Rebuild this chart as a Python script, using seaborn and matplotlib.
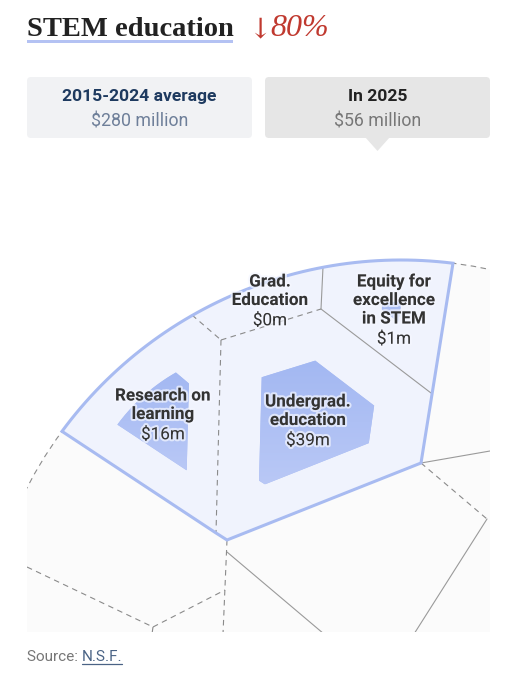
import numpy as np
import matplotlib
matplotlib.use("Agg")
import matplotlib.pyplot as plt
import matplotlib.patheffects as pe
from matplotlib.patches import Polygon, FancyBboxPatch, Circle, Rectangle
import seaborn as sns

# data ($ millions)
categories = ["Research on\nlearning", "Grad.\nEducation",
              "Equity for\nexcellence\nin STEM", "Undergrad.\neducation"]
avg_2015_2024 = [79, 20, 45, 136]
in_2025 = [16, 0, 1, 39]
period_labels = ["2015-2024 average", "In 2025"]
title = "STEM education"
source = "N.S.F."

total_avg = sum(avg_2015_2024)
total_2025 = sum(in_2025)
pct_drop = round(100 * (1 - total_2025 / total_avg))

# layout (pixel space of the 517x680 figure)
CX, CY, R = 401, 681, 421
CLIP = (27, 0, 490, 632)


def arc(x0, x1, n=60):
    a0 = np.arctan2(-np.sqrt(R**2 - (x0 - CX)**2), x0 - CX)
    a1 = np.arctan2(-np.sqrt(R**2 - (x1 - CX)**2), x1 - CX)
    t = np.linspace(a0, a1, n)
    return list(zip(CX + R * np.cos(t), CY + R * np.sin(t)))


cells = [
    arc(62, 192) + [(221, 340), (216, 533)],
    arc(192, 323) + [(321, 309), (221, 340)],
    arc(323, 453) + [(431, 393), (321, 309)],
    [(221, 340), (321, 309), (431, 393), (421, 463), (227, 540), (216, 533)],
]
label_pos = [(163, 396), (270, 282), (394, 282), (308, 402)]
group_outline = arc(62, 453) + [(421, 463), (227, 540), (216, 533)]

dashed_edges = [
    [(192, 315), (221, 340)], [(221, 340), (321, 309)], [(221, 340), (216, 533)],
    [(421, 463), (487, 519)], [(27, 567), (153, 627)], [(153, 627), (225, 590)],
    [(153, 627), (152, 634)], [(227, 540), (223, 634)],
]
solid_edges = [
    [(321, 309), (323, 267)], [(321, 309), (431, 393)],
    [(421, 463), (490, 451)], [(227, 552), (324, 634)], [(487, 519), (414, 634)],
]


def centroid(pts):
    p = np.array(pts)
    x, y = p[:, 0], p[:, 1]
    xs, ys = np.roll(x, -1), np.roll(y, -1)
    c = x * ys - xs * y
    a = c.sum() / 2
    return np.array([((x + xs) * c).sum() / (6 * a), ((y + ys) * c).sum() / (6 * a)])


sns.set_theme(style="white")
plt.rcParams["font.family"] = ["Roboto", "DejaVu Sans"]

fig = plt.figure(figsize=(5.17, 6.80), dpi=100)
ax = fig.add_axes([0, 0, 1, 1])
ax.set_xlim(0, 517)
ax.set_ylim(680, 0)
ax.axis("off")

clip_rect = Rectangle((CLIP[0], CLIP[1]), CLIP[2] - CLIP[0], CLIP[3] - CLIP[1],
                      transform=ax.transData, facecolor="none", edgecolor="none")
ax.add_patch(clip_rect)

# circle background
bg = Circle((CX, CY), R, facecolor="#fbfbfb", edgecolor="none", zorder=1)
ax.add_patch(bg)
bg.set_clip_path(clip_rect)
ring = Circle((CX, CY), R, facecolor="none", edgecolor="#8c8c8c", lw=0.8,
              linestyle=(0, (5, 4)), zorder=2)
ax.add_patch(ring)
ring.set_clip_path(clip_rect)

# STEM group fill
ax.add_patch(Polygon(group_outline, closed=True, facecolor="#f0f3fd",
                     edgecolor="none", zorder=2))

for e in dashed_edges:
    (x0, y0), (x1, y1) = e
    ln, = ax.plot([x0, x1], [y0, y1], color="#8a8a8a", lw=0.8,
                  linestyle=(0, (5, 4)), zorder=3)
    ln.set_clip_path(clip_rect)
for e in solid_edges:
    (x0, y0), (x1, y1) = e
    ln, = ax.plot([x0, x1], [y0, y1], color="#9a9a9a", lw=0.8, zorder=3)
    ln.set_clip_path(clip_rect)

# inner shapes: 2025 value as a share of the average
grad = np.linspace(0, 1, 100)[:, None] * np.ones((1, 10))
cmap = sns.blend_palette(["#a3b8f2", "#b9c8f6"], as_cmap=True)
for pts, avg, cur in zip(cells, avg_2015_2024, in_2025):
    if cur <= 0:
        continue
    c = centroid(pts)
    s = np.sqrt(cur / avg)
    inner = c + s * (np.array(pts) - c)
    poly = Polygon(inner, closed=True, facecolor="#aabdf4", edgecolor="none", zorder=4)
    ax.add_patch(poly)
    x0, y0 = inner.min(axis=0)
    x1, y1 = inner.max(axis=0)
    im = ax.imshow(grad, extent=(x0, x1, y1, y0), cmap=cmap, aspect="auto",
                   zorder=4.5, interpolation="bilinear")
    im.set_clip_path(poly)

ax.add_patch(Polygon(group_outline, closed=True, facecolor="none",
                     edgecolor="#a8bbf1", lw=2.2, joinstyle="miter", zorder=6))
ax.set_xlim(0, 517)
ax.set_ylim(680, 0)

halo = [pe.withStroke(linewidth=3, foreground=(0.96, 0.97, 1, 0.7))]
for name, cur, (x, y) in zip(categories, in_2025, label_pos):
    lines = name.split("\n")
    for i, t in enumerate(lines):
        ax.text(x, y + i * 18.5, t, ha="center", va="center", fontsize=12.3,
                fontweight="bold", color="#333333", path_effects=halo, zorder=7)
    ax.text(x, y + len(lines) * 18.5 + 1.5, f"${cur}m", ha="center", va="center",
            fontsize=12.3, color="#333333", path_effects=halo, zorder=7)

# title
ax.text(27, 36, title, fontsize=20.5, fontweight="bold", color="#222222",
        family=["Liberation Serif", "DejaVu Serif"], ha="left", va="baseline")
ax.add_patch(Rectangle((27, 40), 206, 3, facecolor="#b4c2f3", edgecolor="none"))
ax.text(248, 37, "\u2193", fontsize=20, color="#c0392f",
        family=["DejaVu Serif"], ha="left", va="baseline")
ax.text(270, 36, f"{pct_drop}%", fontsize=23, style="italic", color="#c0392f",
        family=["Liberation Serif", "DejaVu Serif"], ha="left", va="baseline")

# summary cards
cards = [(27, "#f1f2f4", "#1e3a5f", "#6e7f99", total_avg),
         (265, "#e6e6e6", "#222222", "#777777", total_2025)]
for (x, fc, c1, c2, val), lab in zip(cards, period_labels):
    ax.add_patch(FancyBboxPatch((x, 77), 225, 61, boxstyle="round,pad=0,rounding_size=4",
                                facecolor=fc, edgecolor="none"))
    ax.text(x + 112.5, 96.5, lab, ha="center", va="center", fontsize=12.6,
            fontweight="bold", color=c1)
    ax.text(x + 112.5, 122, f"${val} million", ha="center", va="center",
            fontsize=12.8, color=c2)
ax.add_patch(Polygon([(365, 137), (390, 137), (377.5, 151)], closed=True,
                     facecolor="#e6e6e6", edgecolor="none"))

# source
t1 = ax.text(27, 657, "Source: ", ha="left", va="center", fontsize=11, color="#777777")
fig.canvas.draw()
bb = t1.get_window_extent().transformed(ax.transData.inverted())
x_src = bb.x1
t2 = ax.text(x_src, 657, source, ha="left", va="center", fontsize=11, color="#4a6385")
fig.canvas.draw()
bb2 = t2.get_window_extent().transformed(ax.transData.inverted())
ax.plot([bb2.x0, bb2.x1], [664, 664], color="#4a6385", lw=0.9)

fig.savefig("out.png", dpi=100, facecolor="white")
